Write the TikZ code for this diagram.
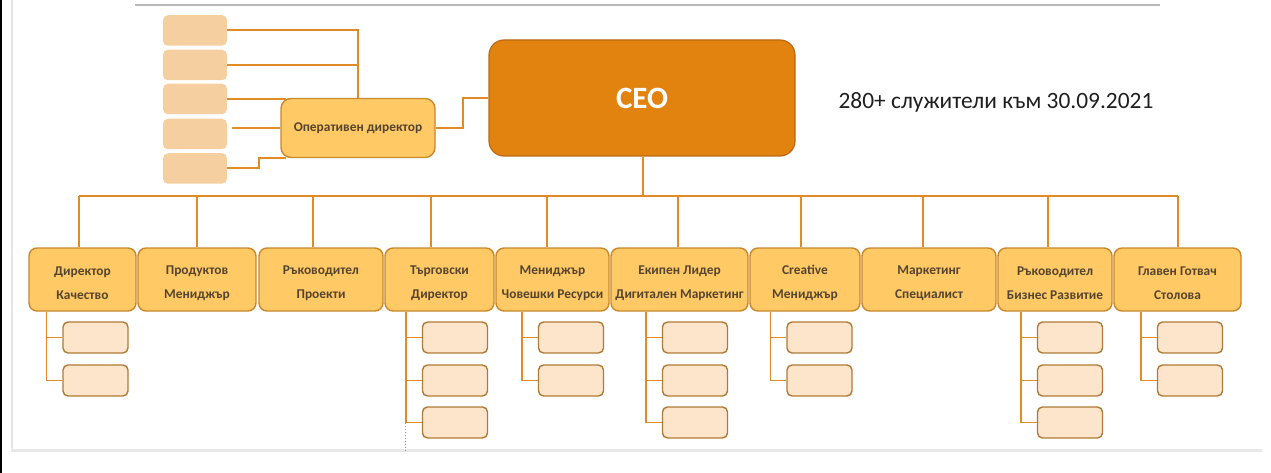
\documentclass[tikz,border=0pt]{standalone}
\usepackage{fontspec}
\setmainfont{Carlito}
\definecolor{ceoC}{HTML}{E3830F}
\definecolor{ceoB}{HTML}{B86A12}
\definecolor{boxY}{HTML}{FFC965}
\definecolor{boxB}{HTML}{C8882B}
\definecolor{peachC}{HTML}{F5CFA0}
\definecolor{subF}{HTML}{FCE5CB}
\definecolor{subB}{HTML}{B07A35}
\definecolor{connC}{HTML}{E08B25}
\definecolor{txtC}{HTML}{55452F}
\newcommand\tp{\rule{0pt}{16.5pt}}
\begin{document}
\begin{tikzpicture}[x=1pt,y=-1pt,
  conn/.style={draw=connC,line width=2pt},
  sconn/.style={draw=connC,line width=1.6pt},
  mainbox/.style={rounded corners=8pt,fill=boxY,draw=boxB,line width=1.4pt,
    text=txtC,align=center,inner sep=0pt,minimum height=63pt,
    font=\bfseries\fontsize{13.4}{24}\selectfont},
  subbox/.style={rounded corners=5pt,fill=subF,draw=subB,line width=1.4pt,
    minimum width=65pt,minimum height=31pt,inner sep=0pt},
  peachbox/.style={rounded corners=5pt,fill=peachC,draw=none,
    minimum width=64pt,minimum height=30.5pt,inner sep=0pt},
  opbox/.style={rounded corners=10pt,fill=boxY,draw=boxB,line width=1.4pt,
    text=txtC,minimum width=154pt,minimum height=59pt,inner sep=0pt,
    font=\bfseries\fontsize{13.4}{15}\selectfont},
  ceobox/.style={rounded corners=15pt,fill=ceoC,draw=ceoB,line width=1.2pt,
    text=white,minimum width=306pt,minimum height=116pt,inner sep=0pt,
    font=\bfseries\fontsize{31}{34}\selectfont}
]
\useasboundingbox (0,0) rectangle (1271,473);
% frame of the screenshot
\draw[black,line width=1.5pt] (0.75,0) -- (0.75,473);
\draw[black!10,line width=2.5pt] (12,0) -- (12,451);
\draw[black!9,line width=3pt] (11,450.5) -- (1262,450.5);
\draw[black!28,line width=1.5pt] (135,5) -- (1160,5);

% CEO and operations director
\node[ceobox] (ceo) at (642,98) {CEO};
\node[opbox] (op) at (358,128) {Оперативен директор};
\node[font=\fontsize{23.4}{27}\selectfont,text=black!88] (note) at (996,102) {280+ служители към 30.09.2021};

% top-left peach boxes
\node[peachbox] (s1) at (195,30.5) {};
\node[peachbox] (s2) at (195,65) {};
\node[peachbox] (s3) at (195,99) {};
\node[peachbox] (s4) at (195,134) {};
\node[peachbox] (s5) at (195,168.5) {};

\draw[conn] (s1.east) -| (op.north);
\draw[conn] (s2.east) -- (s2.east -| op.north);
\draw[conn] (s3.east) -- ([xshift=6pt]s3.east -| op.west);
\draw[conn] ([xshift=5pt]s4.east |- op.west) -- (op.west);
\draw[conn] (s5.east) -- ++(32,0) |- ([xshift=6pt]op.south west);
\draw[conn] (op.east) -- ++(27,0) |- (ceo.west);

% second level
\node[mainbox,minimum width=107pt] (b1) at (82.5,279.5) {\tp Директор\\Качество};
\node[mainbox,minimum width=118pt] (b2) at (197,279.5) {\tp Продуктов\\Мениджър};
\node[mainbox,minimum width=124pt] (b3) at (321,279.5) {\tp Ръководител\\Проекти};
\node[mainbox,minimum width=109pt] (b4) at (439.5,279.5) {\tp Търговски\\Директор};
\node[mainbox,minimum width=113pt] (b5) at (552.5,279.5) {\tp Мениджър\\Човешки Ресурси};
\node[mainbox,minimum width=137pt] (b6) at (679.5,279.5) {\tp Екипен Лидер\\Дигитален Маркетинг};
\node[mainbox,minimum width=110pt] (b7) at (805,279.5) {\tp Creative\\Мениджър};
\node[mainbox,minimum width=134pt] (b8) at (929,279.5) {\tp Маркетинг\\Специалист};
\node[mainbox,minimum width=114pt] (b9) at (1055,279.5) {\tp Ръководител\\Бизнес Развитие};
\node[mainbox,minimum width=127pt] (b10) at (1177.5,279.5) {\tp Главен Готвач\\Столова};

% bus
\coordinate (bus) at (643,196);
\draw[conn] (ceo.south -| bus) -- (bus);
\foreach \i/\x in {1/79,2/197,3/313,4/431,5/547,6/678,7/801,8/923,9/1048,10/1178}{
  \coordinate (d\i) at (\x,196);
  \draw[conn] (d\i) -- (d\i |- b\i.north);
}
\draw[conn] (d1) -- (d10);

% third level boxes
\foreach \b/\x/\n in {1/95.5/2,4/455/3,5/571/2,6/695/3,7/819.5/2,9/1070/3,10/1190/2}{
  \foreach \r/\y in {1/337.5,2/380.5,3/422.5}{
    \ifnum\r>\n\relax\else
      \node[subbox] (b\b s\r) at (\x,\y) {};
    \fi
  }
  \coordinate (sp\b) at ([xshift=-16pt]b\b s1.west);
  \draw[sconn] (sp\b |- b\b.south) |- (b\b s\n.west);
  \foreach \r in {1,...,\n}{
    \draw[sconn] (sp\b |- b\b s\r.west) -- (b\b s\r.west);
  }
}
\draw[connC,line width=1pt,dotted] (sp4 |- b4s3.west) -- ++(0,28);
\end{tikzpicture}
\end{document}
